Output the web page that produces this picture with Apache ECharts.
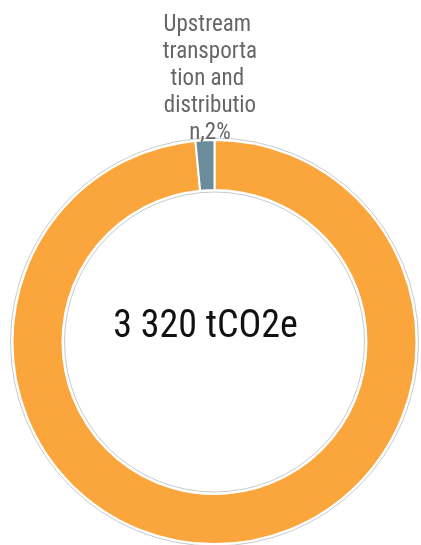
<!DOCTYPE html>
<html><head><meta charset="utf-8">
<script src="https://cdn.jsdelivr.net/npm/echarts@6/dist/echarts.min.js"></script>
<style>html,body{margin:0;padding:0;background:#fff}#c{width:421px;height:545px}</style>
</head><body><div id="c"></div>
<script>
const categories = ['Purchased goods and services', 'Upstream transportation and distribution'];
const values = [3270, 50];
const colors = ['#FAA63C', '#6B8C9A'];
const shownLabels = [false, true];
const totalLabel = '3 320 tCO2e';

const FONT = "'Roboto Condensed', Roboto, sans-serif";
const chart = echarts.init(document.getElementById('c'), null, {renderer: 'canvas'});
chart.setOption({
  animation: false,
  graphic: [{
    type: 'text', x: 205.5, y: 327.5, silent: true,
    style: {text: totalLabel, fontFamily: FONT, fontSize: 38, fill: '#111', align: 'center', verticalAlign: 'middle'}
  }],
  series: [
    {
      type: 'pie', silent: true, center: [214.5, 342], radius: [150, 204], startAngle: 90,
      label: {show: false}, labelLine: {show: false},
      itemStyle: {color: '#fff', borderColor: '#c9c9c9', borderWidth: 1},
      data: [{value: 1, name: ''}]
    },
    {
      type: 'pie', center: [214.5, 342], radius: [152, 202], startAngle: 90, clockwise: true,
      percentPrecision: 0, avoidLabelOverlap: false,
      data: categories.map((c, i) => ({name: c, value: values[i], itemStyle: {color: colors[i]}, label: {show: shownLabels[i]}})),
      itemStyle: {borderColor: '#fff', borderWidth: 2},
      label: {
        position: 'outside', formatter: '{b},{d}%', width: 99, overflow: 'break',
        fontFamily: FONT, fontSize: 23, lineHeight: 27, color: '#666', distanceToLabelLine: 0
      },
      labelLine: {show: false, length: 0, length2: 0},
      labelLayout: {align: 'center', verticalAlign: 'bottom', dx: 5, dy: 7},
      emphasis: {disabled: true}
    }
  ]
});
</script></body></html>
